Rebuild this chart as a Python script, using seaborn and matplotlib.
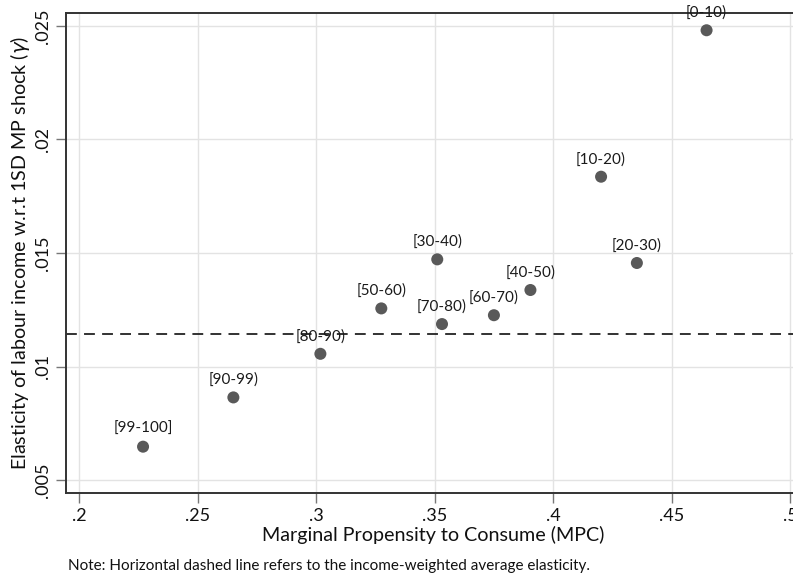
import numpy as np
import pandas as pd
import matplotlib
matplotlib.use("Agg")
import matplotlib.pyplot as plt
import seaborn as sns

# Datos
grupos = ["[0-10)", "[10-20)", "[20-30)", "[30-40)", "[40-50)", "[50-60)",
          "[60-70)", "[70-80)", "[80-90)", "[90-99)", "[99-100]"]
mpc = [0.4647, 0.4202, 0.4353, 0.3511, 0.3904, 0.3275,
       0.3750, 0.3531, 0.3018, 0.2651, 0.2270]
elasticidad = [0.02481, 0.01836, 0.01456, 0.01472, 0.01337, 0.01256,
               0.01226, 0.01187, 0.01056, 0.00864, 0.00647]
promedio = 0.01144

xticks = [0.2, 0.25, 0.3, 0.35, 0.4, 0.45, 0.5]
xticklabels = [".2", ".25", ".3", ".35", ".4", ".45", ".5"]
yticks = [0.005, 0.01, 0.015, 0.02, 0.025]
yticklabels = [".005", ".01", ".015", ".02", ".025"]

df = pd.DataFrame({"grupo": grupos, "mpc": mpc, "elasticidad": elasticidad})

sns.set_style("white")
plt.rcParams["font.family"] = ["Lato", "DejaVu Sans"]
plt.rcParams["mathtext.fontset"] = "dejavusans"

fig = plt.figure(figsize=(7.93, 5.8), dpi=100)
ax = fig.add_axes([66 / 793, 1 - 493 / 580, 1 - 66 / 793 + 0.01, 480 / 580])

ax.grid(True, color="#e3e3e3", linewidth=1.0, zorder=0)
ax.set_axisbelow(True)

sns.scatterplot(data=df, x="mpc", y="elasticidad", ax=ax, color="#595959",
                s=75, edgecolor="none", zorder=3)

# etiquetas encima de cada punto
for _, fila in df.iterrows():
    ax.annotate(fila["grupo"], (fila["mpc"], fila["elasticidad"]),
                xytext=(0, 7.5), textcoords="offset points", ha="center",
                va="bottom", fontsize=11, color="#1a1a1a")

ax.axhline(promedio, color="#222222", linewidth=1.3, linestyle=(0, (6, 4)), zorder=2)

ax.set_xlim(0.1945, 0.5045)
ax.set_ylim(0.00443, 0.02557)
ax.set_xticks(xticks)
ax.set_xticklabels(xticklabels)
ax.set_yticks(yticks)
ax.set_yticklabels(yticklabels, rotation=90, va="center")

ax.tick_params(axis="both", direction="out", length=7, width=1, color="#777777",
               labelsize=13, labelcolor="#111111", pad=4)
ax.tick_params(axis="x", bottom=True)
ax.tick_params(axis="y", left=True)

for lado in ["left", "bottom", "top"]:
    ax.spines[lado].set_color("#333333")
    ax.spines[lado].set_linewidth(1.4)
ax.spines["right"].set_visible(False)

ax.set_xlabel("Marginal Propensity to Consume (MPC)", fontsize=14.2, color="#111111", labelpad=1)
ax.set_ylabel(r"Elasticity of labour income w.r.t 1SD MP shock ($\gamma$)",
              fontsize=14.2, color="#111111", labelpad=2)

fig.text(68 / 793, 1 - 566 / 580,
         "Note: Horizontal dashed line refers to the income-weighted average elasticity.",
         fontsize=11, color="#111111", va="center", ha="left")

fig.savefig("out.png", dpi=100)
